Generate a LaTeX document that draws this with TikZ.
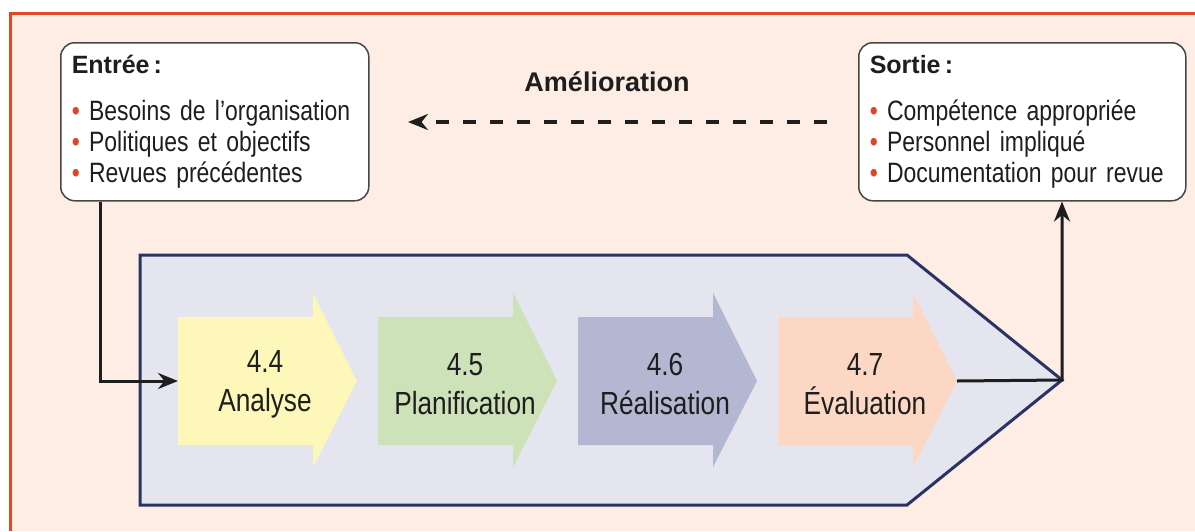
\documentclass[tikz,border=0pt]{standalone}
\usepackage{fontspec}
\setmainfont{Liberation Sans}[FakeStretch=0.82]
\newfontfamily\headfont{Liberation Sans}[FakeStretch=1.0]
\usetikzlibrary{arrows.meta,positioning}

\definecolor{pageback}{RGB}{253,237,228}
\definecolor{frame}{RGB}{226,72,40}
\definecolor{dotred}{RGB}{222,68,38}
\definecolor{navy}{RGB}{42,52,100}
\definecolor{panel}{RGB}{228,229,238}
\definecolor{ink}{RGB}{30,30,30}
\definecolor{boxline}{RGB}{70,70,70}
\definecolor{stepyellow}{RGB}{253,248,185}
\definecolor{stepgreen}{RGB}{205,226,185}
\definecolor{stepgray}{RGB}{180,183,209}
\definecolor{stepsalmon}{RGB}{252,216,196}

\newcommand{\puce}{{\color{dotred}\textbullet}\ }

\begin{document}
\begin{tikzpicture}[x=1pt,y=-1pt,
    infobox/.style={draw=boxline,line width=1.5pt,fill=white,rounded corners=14pt,
      anchor=north west,minimum height=158pt,inner xsep=11pt,align=left,
      text=ink,font=\fontsize{28}{31}\selectfont},
    steplabel/.style={align=center,text=ink,font=\fontsize{32}{39}\selectfont},
    flowline/.style={draw=ink,line width=3pt,-{Stealth[length=20pt,width=16pt]}}]
	\useasboundingbox (0,0) rectangle (1195,531);
	\fill[white] (0,0) rectangle (1195,531);
	\fill[pageback] (10,13) rectangle (1195,531);
	\draw[frame,line width=3pt] (10,531) -- (10,13) -- (1195,13);
	
	% boxes
	\node[infobox,text width=286pt] (entree) at (60,42)
	{{\headfont\bfseries\fontsize{25}{28}\selectfont Entrée\,:}\\[16pt]
	 \puce Besoins de l’organisation\\ \puce Politiques et objectifs\\ \puce Revues précédentes};
	\node[infobox,text width=305pt] (sortie) at (858,42)
	{{\headfont\bfseries\fontsize{25}{28}\selectfont Sortie\,:}\\[16pt]
	 \puce Compétence appropriée\\ \puce Personnel impliqué\\ \puce Documentation pour revue};
	
	\node[text=ink,font=\headfont\bfseries\fontsize{27}{30}\selectfont] (amelio) at (607,82) {Amélioration};
	\coordinate (dashstart) at (827,122);
	\coordinate (dashend) at (408,122);
	\draw[flowline,line width=3.2pt,dash pattern=on 13pt off 14pt] (dashstart) -- (dashend);
	
	% process panel
	\coordinate (penttip) at (1062,380);
	\draw[navy,line width=3pt,fill=panel] (140,255) -- (907,255) -- (penttip) -- (907,505) -- (140,505) -- cycle;
	
	\foreach \n/\lab/\col [count=\i] in {4.4/Analyse/stepyellow,4.5/Planification/stepgreen,4.6/Réalisation/stepgray,4.7/Évaluation/stepsalmon}
	{
		\pgfmathsetmacro\xa{178+200*(\i-1)}
		\fill[\col] (\xa,317) -- ++(135,0) -- ++(0,-24) -- ++(44,88) -- ++(-44,86) -- ++(0,-22) -- ++(-135,0) -- cycle;
		\coordinate (s\i) at (\xa,381);
		\coordinate (tip\i) at ({\xa+179},381);
		\node[steplabel] (t\i) at ({\xa+87},384) {\n\\\lab};
	}
	
	% connectors
	\draw[flowline] ([xshift=40pt]entree.south west) |- (s1);
	\draw[flowline] (tip4) -- (penttip) -- (penttip |- sortie.south);
\end{tikzpicture}
\end{document}
